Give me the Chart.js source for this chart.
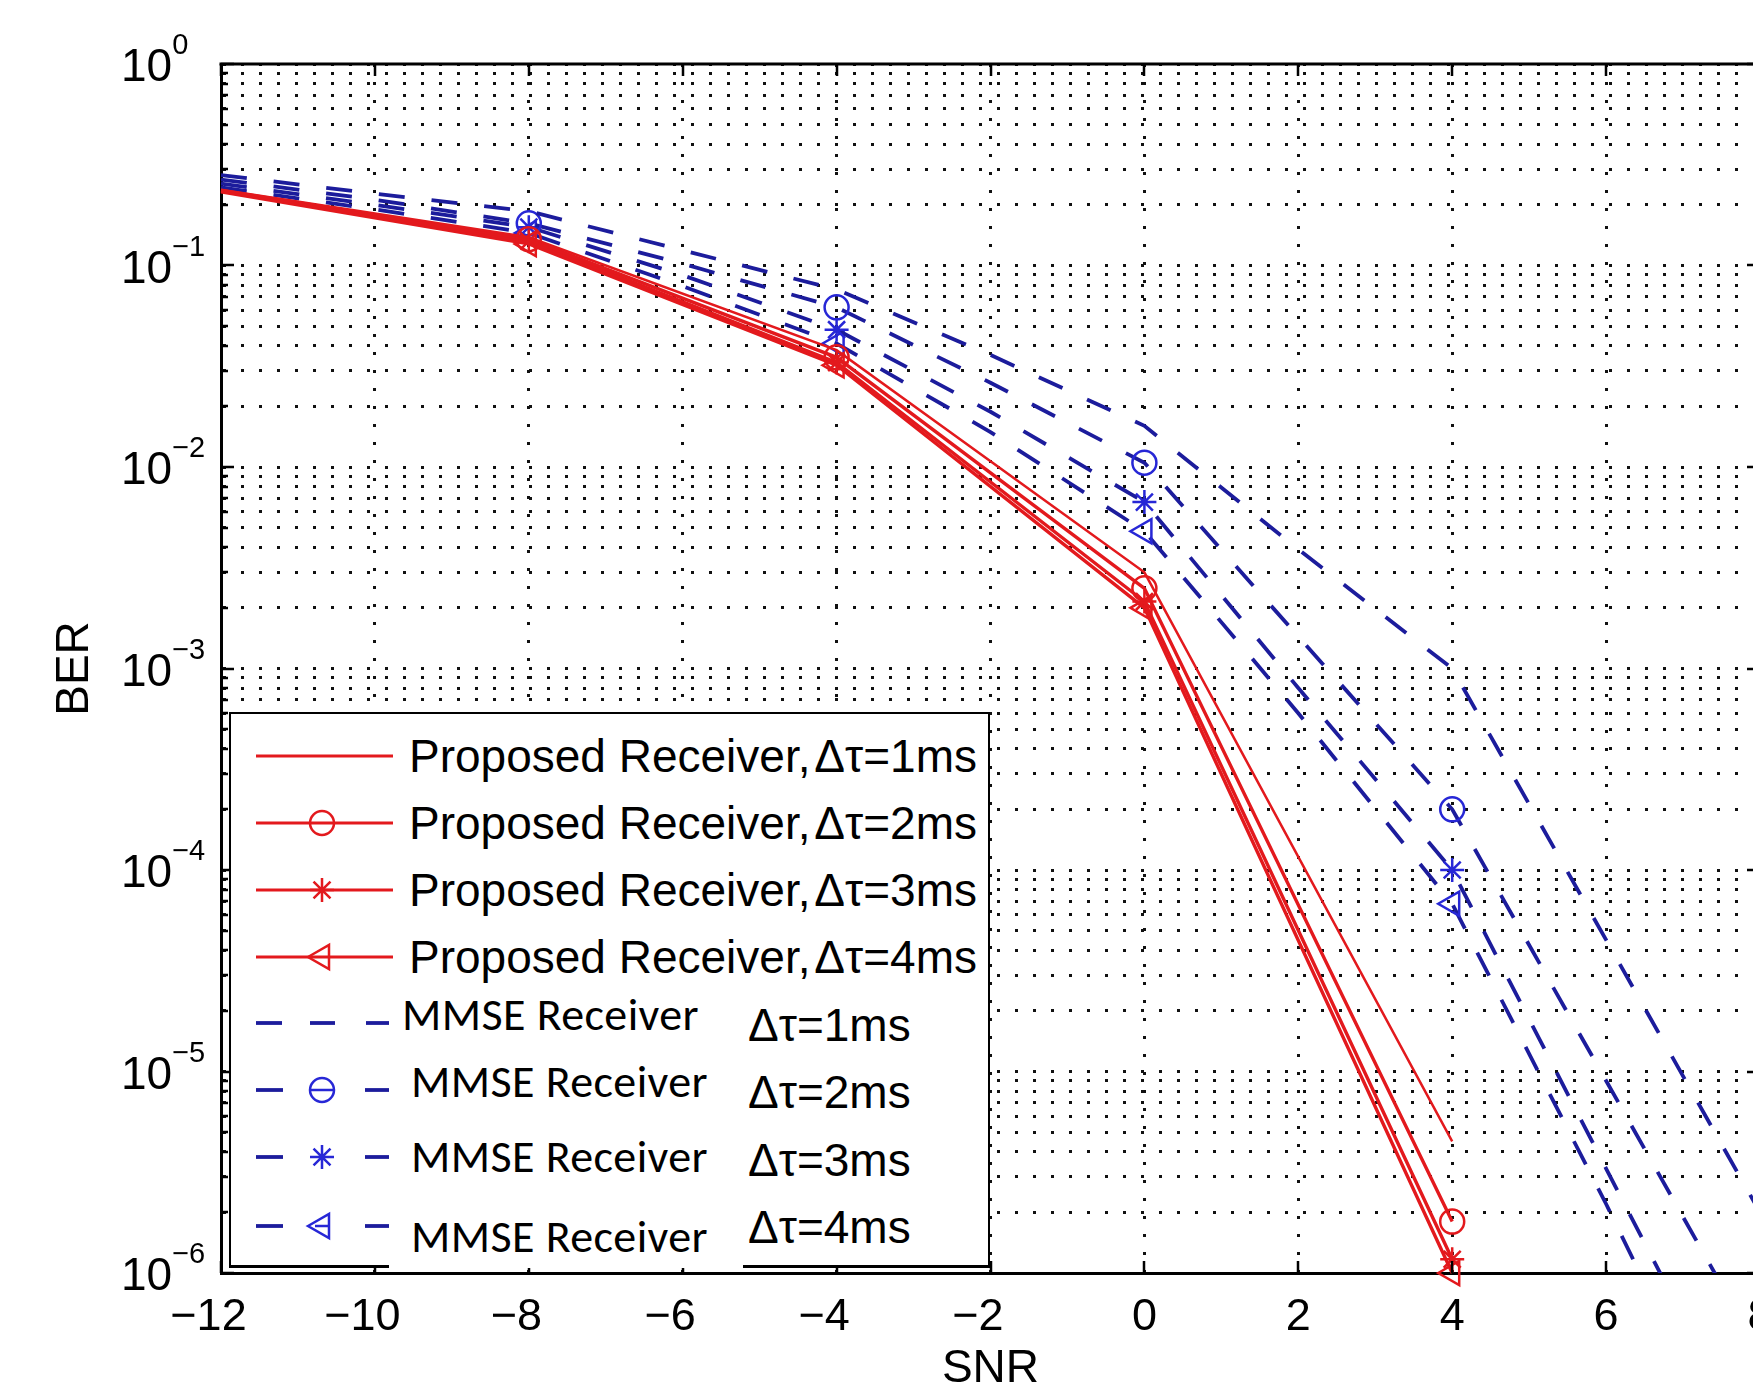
<!DOCTYPE html>
<html>
<head>
<meta charset="utf-8">
<script src="https://cdn.jsdelivr.net/npm/chart.js@4.4.1/dist/chart.umd.min.js"></script>
<style>
html,body{margin:0;padding:0;background:#fff;overflow:hidden;width:1753px;height:1383px;position:relative;}
#wrap{position:absolute;left:0;top:0;width:1800px;height:1420px;}
#c{position:absolute;left:0;top:0;}
.lg{position:absolute;left:229px;top:712px;width:761px;height:556px;box-sizing:border-box;border:2.5px solid #000;border-bottom:none;background:#fff;}
.bar{position:absolute;height:3px;background:#000;top:1265px;}
.t{position:absolute;white-space:nowrap;color:#000;}
.pr{font-family:'Liberation Sans',Arial,sans-serif;font-size:46px;line-height:46px;}
.mm{font-family:Carlito,Lato,'Open Sans',sans-serif;font-size:46px;line-height:46px;letter-spacing:0.4px;}
svg{position:absolute;left:0;top:0;}
</style>
</head>
<body>
<div id="wrap"><canvas id="c" width="1800" height="1420"></canvas></div>

<div class="lg"></div>
<div class="bar" style="left:229px;width:160px;"></div>
<div class="bar" style="left:743px;width:247px;"></div>

<div class="t pr" style="left:409px;top:733px;">Proposed Receiver,&#8202;Δτ=1ms</div>
<div class="t pr" style="left:409px;top:800px;">Proposed Receiver,&#8202;Δτ=2ms</div>
<div class="t pr" style="left:409px;top:867px;">Proposed Receiver,&#8202;Δτ=3ms</div>
<div class="t pr" style="left:409px;top:934px;">Proposed Receiver,&#8202;Δτ=4ms</div>

<div class="t mm" style="left:402px;top:991px;">MMSE Receiver</div>
<div class="t mm" style="left:411px;top:1058px;">MMSE Receiver</div>
<div class="t mm" style="left:411px;top:1133px;">MMSE Receiver</div>
<div class="t mm" style="left:411px;top:1213px;">MMSE Receiver</div>

<div class="t pr" style="left:748px;top:1002px;">Δτ=1ms</div>
<div class="t pr" style="left:748px;top:1069px;">Δτ=2ms</div>
<div class="t pr" style="left:748px;top:1137px;">Δτ=3ms</div>
<div class="t pr" style="left:748px;top:1204px;">Δτ=4ms</div>

<svg width="1753" height="1383" id="lgsvg"></svg>

<script>
// ---------------- data ----------------
const snrProposed = [-12, -8, -4, 0, 4];
const berProposed1 = [0.238, 0.138, 0.038, 3.0e-3, 4.5e-6];
const berProposed2 = [0.236, 0.135, 0.035, 2.5e-3, 1.8e-6];
const berProposed3 = [0.234, 0.132, 0.033, 2.15e-3, 1.17e-6];
const berProposed4 = [0.232, 0.128, 0.032, 2.0e-3, 1.0e-6];

const snrMmse = [-12, -10, -8, -6, -4, -2, 0, 2, 4, 6, 8];
const berMmse1 = [0.281, 0.227, 0.186, 0.119, 0.076, 0.036, 0.016, 3.9e-3, 1.0e-3, 4.5e-5, 2.0e-6];
const berMmse2 = [0.267, 0.212, 0.162, 0.102, 0.062, 0.0262, 0.0105, 1.44e-3, 2.0e-4, 9.0e-6, 4.0e-7];
const berMmse3 = [0.255, 0.200, 0.155, 0.0895, 0.048, 0.0188, 6.7e-3, 8.0e-4, 1.0e-4, 3.3e-6, 1.1e-7];
const berMmse4 = [0.244, 0.190, 0.145, 0.079, 0.041, 0.0149, 4.8e-3, 6.0e-4, 6.8e-5, 2.2e-6, 6.0e-8];

const markerSnr = [-8, -4, 0, 4];
const xTickValues = [-12, -10, -8, -6, -4, -2, 0, 2, 4, 6, 8];
const yDecades = [0, -1, -2, -3, -4, -5, -6];
const seriesLabels = [
  'Proposed Receiver, Δτ=1ms', 'Proposed Receiver, Δτ=2ms',
  'Proposed Receiver, Δτ=3ms', 'Proposed Receiver, Δτ=4ms',
  'MMSE Receiver Δτ=1ms', 'MMSE Receiver Δτ=2ms',
  'MMSE Receiver Δτ=3ms', 'MMSE Receiver Δτ=4ms'
];

// ---------------- styling ----------------
const RED = '#e3191d';
const BLUE_LINE = '#1c1c9c';
const BLUE_MARK = '#2727d6';
const FONT = "'Liberation Sans', Arial, sans-serif";

// minor + major log ticks
const yTickValues = [];
yDecades.slice().sort((a, b) => a - b).forEach(e => {
  if (e === 0) { yTickValues.push(1); return; }
  for (let k = 1; k <= 9; k++) yTickValues.push(+(k * Math.pow(10, e)).toPrecision(3));
});

const toXY = (xs, ys) => xs.map((x, i) => ({x: x, y: ys[i]}));
const markR = (r) => (ctx) => (ctx.raw && markerSnr.includes(ctx.raw.x)) ? r : 0;

function makeSet(label, xs, ys, color, width, dash, style, r, rot, mColor, clip) {
  return {
    label: label, data: toXY(xs, ys),
    borderColor: color, borderWidth: width, borderDash: dash,
    pointStyle: style || 'circle', pointRadius: style ? markR(r) : 0,
    pointRotation: rot || 0, pointBorderColor: mColor || color,
    pointBackgroundColor: 'rgba(0,0,0,0)', pointBorderWidth: 2.5,
    fill: false, tension: 0, clip: clip
  };
}

const datasets = [
  makeSet(seriesLabels[0], snrProposed, berProposed1, RED, 2.5, [], null, 0, 0, RED, false),
  makeSet(seriesLabels[1], snrProposed, berProposed2, RED, 3.4, [], 'circle', 12, 0, RED, false),
  makeSet(seriesLabels[2], snrProposed, berProposed3, RED, 3.4, [], 'star', 12, 0, RED, false),
  makeSet(seriesLabels[3], snrProposed, berProposed4, RED, 3.4, [], 'triangle', 14, -90, RED, false),
  makeSet(seriesLabels[4], snrMmse, berMmse1, BLUE_LINE, 3.8, [26, 27], null, 0, 0, BLUE_MARK, undefined),
  makeSet(seriesLabels[5], snrMmse, berMmse2, BLUE_LINE, 3.8, [26, 27], 'circle', 12, 0, BLUE_MARK, undefined),
  makeSet(seriesLabels[6], snrMmse, berMmse3, BLUE_LINE, 3.8, [26, 27], 'star', 12, 0, BLUE_MARK, undefined),
  makeSet(seriesLabels[7], snrMmse, berMmse4, BLUE_LINE, 3.8, [26, 27], 'triangle', 14, -90, BLUE_MARK, undefined)
];

const framePlugin = {
  id: 'frame',
  afterDraw(chart) {
    const {ctx, chartArea: a, scales: {x, y}} = chart;
    ctx.save();
    ctx.strokeStyle = '#000';
    ctx.lineWidth = 3;
    ctx.beginPath();
    ctx.moveTo(a.left - 1.5, a.top); ctx.lineTo(a.right, a.top);
    ctx.moveTo(a.right, a.top); ctx.lineTo(a.right, a.bottom);
    ctx.stroke();
    ctx.lineWidth = 2.5;
    ctx.beginPath();
    xTickValues.forEach(v => {
      const px = Math.round(x.getPixelForValue(v));
      ctx.moveTo(px, a.bottom); ctx.lineTo(px, a.bottom - 12);
      ctx.moveTo(px, a.top); ctx.lineTo(px, a.top + 12);
    });
    yTickValues.forEach(v => {
      const py = Math.round(y.getPixelForValue(v));
      const major = Math.abs(Math.log10(v) - Math.round(Math.log10(v))) < 1e-6;
      const len = major ? 13 : 7;
      ctx.moveTo(a.left, py); ctx.lineTo(a.left + len, py);
      ctx.moveTo(a.right, py); ctx.lineTo(a.right - len, py);
    });
    ctx.stroke();
    // y tick labels 10^n
    ctx.fillStyle = '#000';
    ctx.textAlign = 'left';
    ctx.textBaseline = 'alphabetic';
    yDecades.forEach(e => {
      const py = y.getPixelForValue(Math.pow(10, e));
      ctx.font = '46px ' + FONT;
      ctx.fillText('10', 121, py + 17);
      const w = ctx.measureText('10').width;
      ctx.font = '29px ' + FONT;
      ctx.fillText(e < 0 ? '\u2212' + (-e) : String(e), 121 + w, py - 10);
    });
    ctx.restore();
  }
};

new Chart(document.getElementById('c'), {
  type: 'line',
  data: {datasets: datasets},
  options: {
    responsive: false, animation: false, events: [],
    devicePixelRatio: 1,
    layout: {padding: {left: 0, top: 64, right: 40, bottom: 0}},
    plugins: {legend: {display: false}, tooltip: {enabled: false}},
    scales: {
      x: {
        type: 'linear', min: -12, max: 8,
        afterBuildTicks: s => { s.ticks = xTickValues.map(v => ({value: v})); },
        afterFit: s => { s.height = 147; },
        grid: {color: '#111', lineWidth: 3, drawTicks: false},
        border: {display: true, color: '#000', width: 3, dash: [3, 15]},
        ticks: {
          font: {family: FONT, size: 45}, color: '#000', padding: 18,
          maxRotation: 0, autoSkip: false,
          callback: v => v < 0 ? '\u2212' + (-v) + '\u2007' : String(v)
        },
        title: {display: true, text: 'SNR', color: '#000', font: {family: FONT, size: 46}, padding: {top: 0, bottom: 23}}
      },
      y: {
        type: 'logarithmic', min: 1e-6, max: 1,
        afterBuildTicks: s => { s.ticks = yTickValues.map(v => ({value: v})); },
        afterFit: s => { s.width = 221; },
        grid: {color: '#111', lineWidth: 3, drawTicks: false},
        border: {display: true, color: '#000', width: 3, dash: [3, 15]},
        ticks: {display: false, autoSkip: false},
        title: {display: true, text: 'BER', color: '#000', font: {family: FONT, size: 46}, padding: {top: 48, bottom: 0}}
      }
    }
  },
  plugins: [framePlugin]
});

// ---------------- legend samples ----------------
(function () {
  const svg = document.getElementById('lgsvg');
  const NS = 'http://www.w3.org/2000/svg';
  const add = (tag, attrs) => { const el = document.createElementNS(NS, tag); for (const k in attrs) el.setAttribute(k, attrs[k]); svg.appendChild(el); return el; };
  const line = (x1, y1, x2, y2, c, w) => add('line', {x1, y1, x2, y2, stroke: c, 'stroke-width': w});
  const circle = (cx, cy, r, c) => add('circle', {cx, cy, r, stroke: c, 'stroke-width': 2.5, fill: 'none'});
  const star = (cx, cy, r, c) => {
    const d = r * 0.707;
    add('path', {d: `M${cx - r} ${cy}H${cx + r}M${cx} ${cy - r}V${cy + r}M${cx - d} ${cy - d}L${cx + d} ${cy + d}M${cx - d} ${cy + d}L${cx + d} ${cy - d}`, stroke: c, 'stroke-width': 2.5, fill: 'none'});
  };
  const tri = (cx, cy, r, c) => {
    const h = r * 0.866;
    add('path', {d: `M${cx - r} ${cy}L${cx + r / 2} ${cy - h}L${cx + r / 2} ${cy + h}Z`, stroke: c, 'stroke-width': 2.5, fill: 'none'});
  };
  const pRows = [756, 823, 890, 957];
  pRows.forEach((yy, i) => {
    line(256, yy, 393, yy, RED, 3);
    if (i === 1) circle(322, yy, 12, RED);
    if (i === 2) star(322, yy, 12, RED);
    if (i === 3) tri(322, yy, 14, RED);
  });
  const mRows = [1023, 1090, 1157, 1226];
  mRows.forEach((yy, i) => {
    if (i === 0) {
      line(256, yy, 282, yy, BLUE_LINE, 3.8);
      line(310, yy, 335, yy, BLUE_LINE, 3.8);
      line(366, yy, 389, yy, BLUE_LINE, 3.8);
    } else {
      line(256, yy, 283, yy, BLUE_LINE, 3.8);
      line(365, yy, 389, yy, BLUE_LINE, 3.8);
      if (i === 1) { circle(322, yy, 12, BLUE_MARK); line(310, yy, 334, yy, BLUE_MARK, 2.5); }
      if (i === 2) star(322, yy, 12, BLUE_MARK);
      if (i === 3) { tri(322, yy, 14, BLUE_MARK); line(315, yy, 329, yy, BLUE_MARK, 2.5); }
    }
  });
})();
</script>
</body>
</html>
